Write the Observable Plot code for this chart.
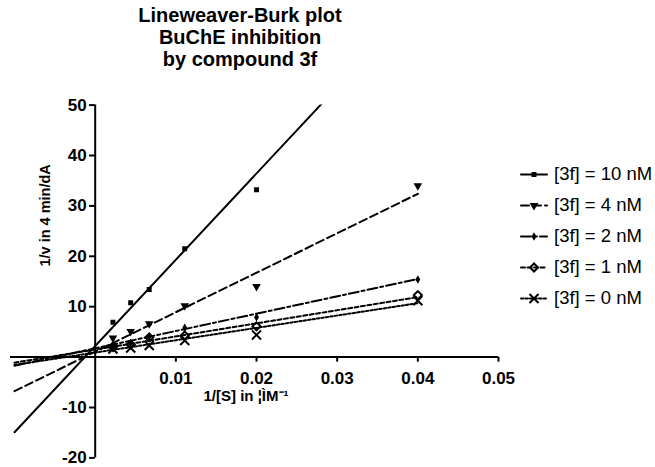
<!DOCTYPE html>
<html>
<head>
<meta charset="utf-8">
<script src="https://cdn.jsdelivr.net/npm/d3@7"></script>
<script src="https://cdn.jsdelivr.net/npm/@observablehq/plot@0.6"></script>
<style>
  html, body { margin: 0; padding: 0; background: #fff; }
  #wrap { position: relative; width: 655px; height: 467px; overflow: hidden; font-family: "Liberation Sans", Arial, sans-serif; }
  #title { position: absolute; left: 0; top: 4px; width: 480px; text-align: center; font-weight: bold; font-size: 20px; line-height: 22px; color: #000; }
  #chart { position: absolute; left: 0; top: 0; }
  #legend { position: absolute; left: 515px; top: 150px; }
</style>
</head>
<body>
<div id="wrap">
  <div id="chart"></div>
  <div id="title">Lineweaver-Burk plot<br>BuChE inhibition<br>by compound 3f</div>
  <div id="legend"></div>
</div>
<script>
// 1/[S] values (µM^-1)
const invS = [0.0022, 0.0044, 0.0067, 0.0111, 0.02, 0.04];
const series = ["[3f] = 10 nM", "[3f] = 4 nM", "[3f] = 2 nM", "[3f] = 1 nM", "[3f] = 0 nM"];
// 1/v values per series (10 nM point at 0.04 is off scale)
const v10 = [6.9, 10.8, 13.4, 21.5, 33.2, null];
const v4  = [3.8, 5.1, 6.6, 10.2, 14.0, 34.0];
const v2  = [2.3, 2.8, 4.1, 5.8, 7.9, 15.4];
const v1  = [2.0, 2.5, 3.9, 4.3, 6.1, 12.3];
const v0  = [1.6, 1.8, 2.3, 3.3, 4.4, 11.2];
// fitted lines (slope, intercept)
const slopes = [1712, 783, 344, 260, 245];
const intercepts = [2.2, 1.08, 1.74, 1.5, 0.9];
const fitExtent = [-0.01, 0.04];
const xTicks = [0.01, 0.02, 0.03, 0.04, 0.05];
const yTicks = [-20, -10, 10, 20, 30, 40, 50];

const values = [v10, v4, v2, v1, v0];
const dashes = [null, "8,4", "10,3,3,3", "4,2.5", "2.5,2"];
const symbols = ["square", "triangle", "diamond", "diamond2", "times"];
const rotates = [0, 180, 0, 0, 0];
const radii = [2.8, 3.2, 2.6, 3.6, 4.2];
const filled = [true, true, true, false, false];

const points = series.flatMap((s, i) => invS.map((x, j) => ({s, i, x, y: values[i][j]}))).filter(d => d.y != null);
const fits = series.map((s, i) => fitExtent.map(x => ({s, i, x, y: intercepts[i] + slopes[i] * x})));

const font = "'Liberation Sans', Arial, sans-serif";

const marks = [];
// axes through origin
marks.push(Plot.ruleY([0], {stroke: "#000", strokeWidth: 2}));
marks.push(Plot.ruleX([0], {stroke: "#000", strokeWidth: 2}));
marks.push(Plot.ruleX(xTicks, {x: d => d, y1: 0, y2: -1, stroke: "#000", strokeWidth: 2}));
marks.push(Plot.ruleY(yTicks, {y: d => d, x1: -0.0007, x2: 0, stroke: "#000", strokeWidth: 2}));
marks.push(Plot.text(xTicks, {x: d => d, y: 0, text: d => String(d), dy: 21, fontWeight: "bold", fontSize: 17, fill: "#000"}));
marks.push(Plot.text(yTicks, {x: 0, y: d => d, text: d => String(d), textAnchor: "end", dx: -8.5, fontWeight: "bold", fontSize: 17, fill: "#000"}));
marks.push(Plot.text(["1/v in 4 min/dA"], {text: d => d, frameAnchor: "left", rotate: -90, dx: 35, dy: -15, fontWeight: "bold", fontSize: 14.5, fill: "#000"}));
marks.push(Plot.text(["1/[S] in ¦ÌM⁻¹"], {text: d => d, frameAnchor: "bottom-left", textAnchor: "start", dx: 193, dy: -57, fontWeight: "bold", fontSize: 15, fill: "#000"}));
// fit lines
fits.forEach((f, i) => {
  marks.push(Plot.line(f, {x: "x", y: "y", stroke: "#000", strokeWidth: 2, strokeDasharray: dashes[i], clip: true}));
});
// data points
series.forEach((s, i) => {
  const d = points.filter(p => p.i === i);
  marks.push(Plot.dot(d, {x: "x", y: "y", symbol: () => symbols[i], r: radii[i], rotate: rotates[i],
    fill: filled[i] ? "#000" : "none", stroke: filled[i] ? "none" : "#000", strokeWidth: 2, clip: true}));
});

const chart = Plot.plot({
  width: 655, height: 467,
  marginLeft: 10, marginRight: 157, marginTop: 104.6, marginBottom: 9.6,
  x: {domain: [-0.0105, 0.05], axis: null},
  y: {domain: [-20, 50], axis: null},
  symbol: {type: "identity"},
  style: {fontFamily: font, background: "transparent", color: "#000", overflow: "visible"},
  marks
});
document.getElementById("chart").appendChild(chart);

// legend
const legLines = series.flatMap((s, i) => [0, 1].map(x => ({s, i, x})));
const legMarks = [];
series.forEach((s, i) => {
  legMarks.push(Plot.line(legLines.filter(d => d.i === i), {x: "x", y: "s", stroke: "#000", strokeWidth: 2, strokeDasharray: dashes[i]}));
  legMarks.push(Plot.dot([s], {x: 0.5, y: d => d, symbol: () => symbols[i], r: radii[i], rotate: rotates[i],
    fill: filled[i] ? "#000" : "none", stroke: filled[i] ? "none" : "#000", strokeWidth: 2}));
});
legMarks.push(Plot.text(series, {x: 1, y: d => d, text: d => d, textAnchor: "start", dx: 7, fontSize: 18.5, fill: "#000"}));
const legend = Plot.plot({
  width: 140, height: 165,
  margin: 0,
  x: {domain: [0, 1], range: [5.5, 31.5], axis: null},
  y: {type: "point", domain: series, range: [23, 149], padding: 0, axis: null},
  symbol: {type: "identity"},
  style: {fontFamily: font, background: "transparent", overflow: "visible"},
  marks: legMarks
});
document.getElementById("legend").appendChild(legend);
</script>
</body>
</html>
